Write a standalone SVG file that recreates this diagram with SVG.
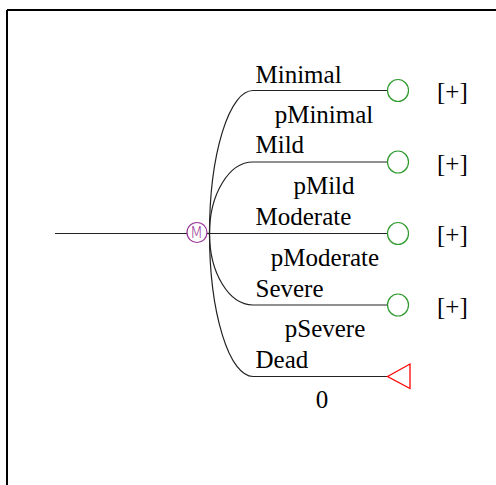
<svg xmlns="http://www.w3.org/2000/svg" width="496" height="485" viewBox="0 0 496 485">
  <style>
    .frame { stroke: #000; stroke-width: 2; fill: none; }
    .edge { stroke: #222; stroke-width: 1.2; fill: none; }
    .lbl { font-family: "Liberation Serif", "Times New Roman", serif; font-size: 25px; fill: #000; }
    .prob { text-anchor: middle; }
    .chance { stroke: #2e9a2e; stroke-width: 1.2; fill: #fff; }
    .terminal { stroke: #ff0000; stroke-width: 1.3; fill: #fff; }
    .markov { stroke: #993399; stroke-width: 1.2; fill: #fff; }
    .mtext { font-family: "DejaVu Sans", "Liberation Sans", sans-serif; font-weight: 200; font-size: 15px; fill: #993399; text-anchor: middle; }
  </style>

  <rect width="496" height="485" fill="#fff"/>
  <path class="frame" d="M7,10 H497 M7,10 V486"/>

  <!-- connectors -->
  <g id="connectors">
    <path class="edge" d="M55,233.5 H187"/>
    <path class="edge" d="M206.5,233.5 H209.5"/>
    <!-- branches fan out from the Markov node -->
    <path class="edge" d="M209.5,233.5 A43.5,143 0 0 1 253,90.5 H387.5"/>
    <path class="edge" d="M209.5,233.5 A43.5,71.5 0 0 1 253,162 H387.5"/>
    <path class="edge" d="M209.5,233.5 H387.5"/>
    <path class="edge" d="M209.5,233.5 A43.5,71.5 0 0 0 253,305 H387.5"/>
    <path class="edge" d="M209.5,233.5 A43.5,143 0 0 0 253,376.5 H387.5"/>
  </g>

  <!-- Markov node -->
  <g id="markov-node">
    <circle class="markov" cx="197" cy="232.5" r="10"/>
    <text class="mtext" x="196.5" y="238">M</text>
  </g>

  <!-- branch labels -->
  <g id="branch-minimal">
    <text class="lbl" x="255.5" y="82.5">Minimal</text>
    <text class="lbl prob" x="324" y="123">pMinimal</text>
    <ellipse class="chance" cx="398" cy="90.5" rx="10.5" ry="11"/>
    <text class="lbl" x="437" y="100">[+]</text>
  </g>
  <g id="branch-mild">
    <text class="lbl" x="255.5" y="153">Mild</text>
    <text class="lbl prob" x="324" y="194">pMild</text>
    <ellipse class="chance" cx="398" cy="162" rx="10.5" ry="11"/>
    <text class="lbl" x="437" y="171.5">[+]</text>
  </g>
  <g id="branch-moderate">
    <text class="lbl" x="255.5" y="224.5">Moderate</text>
    <text class="lbl prob" x="325" y="265.5">pModerate</text>
    <ellipse class="chance" cx="398" cy="233.5" rx="10.5" ry="11"/>
    <text class="lbl" x="437" y="243">[+]</text>
  </g>
  <g id="branch-severe">
    <text class="lbl" x="255.5" y="296.5">Severe</text>
    <text class="lbl prob" x="325" y="337">pSevere</text>
    <ellipse class="chance" cx="398" cy="305" rx="10.5" ry="11"/>
    <text class="lbl" x="437" y="314.5">[+]</text>
  </g>
  <g id="branch-dead">
    <text class="lbl" x="255.5" y="368">Dead</text>
    <text class="lbl prob" x="322" y="408">0</text>
    <polygon class="terminal" points="387.5,376.5 410,364 410,388.5"/>
  </g>
</svg>
